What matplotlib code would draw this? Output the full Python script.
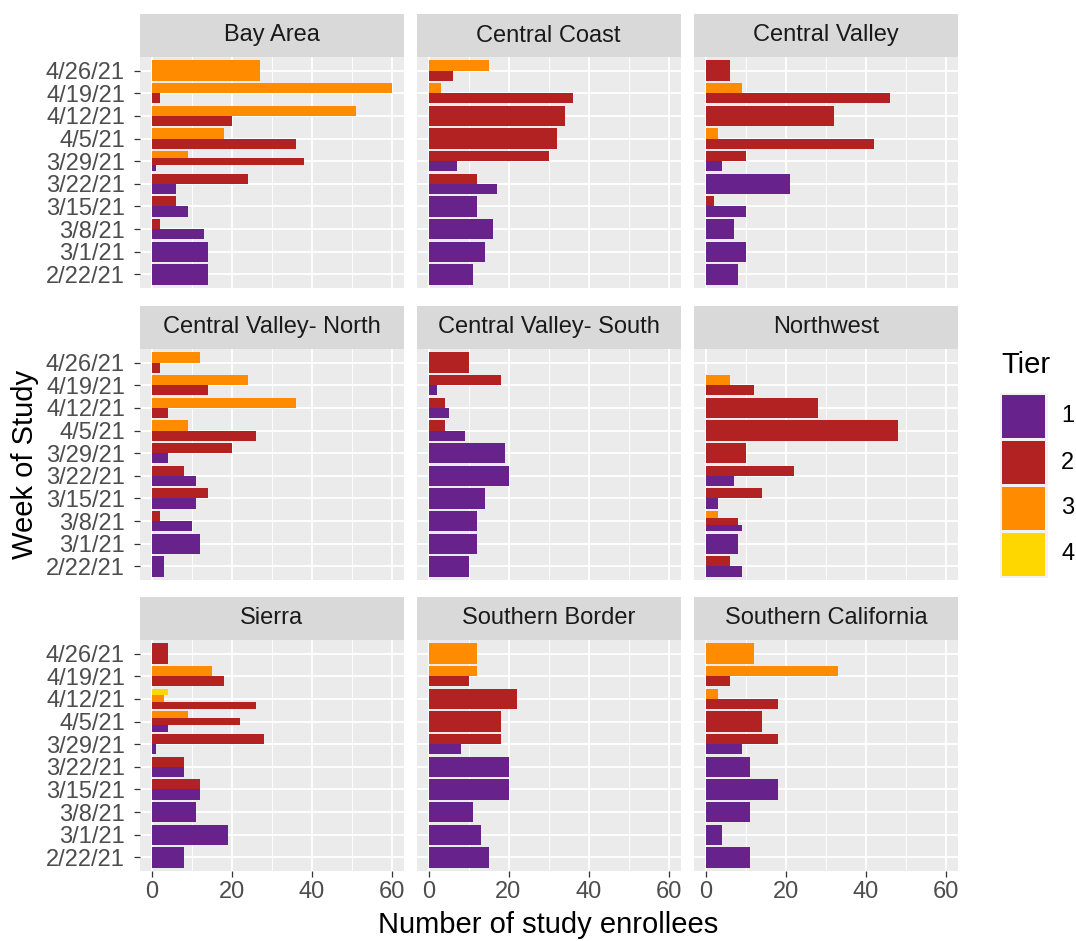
import matplotlib
matplotlib.use('Agg')
import matplotlib.pyplot as plt
from matplotlib.patches import Rectangle

plt.rcParams['font.family'] = ['Liberation Sans', 'DejaVu Sans']

# ---------------- data ----------------
weeks = ['2/22/21', '3/1/21', '3/8/21', '3/15/21', '3/22/21', '3/29/21',
         '4/5/21', '4/12/21', '4/19/21', '4/26/21']
regions = ['Bay Area', 'Central Coast', 'Central Valley',
           'Central Valley- North', 'Central Valley- South', 'Northwest',
           'Sierra', 'Southern Border', 'Southern California']
tiers = ['1', '2', '3', '4']
tier_colors = ['#68228B', '#B22222', '#FF8C00', '#FFD700']

# values per week (2/22 ... 4/26), one list per tier
bay_area_t1 = [14, 14, 13, 9, 6, 1, 0, 0, 0, 0]
bay_area_t2 = [0, 0, 2, 6, 24, 38, 36, 20, 2, 0]
bay_area_t3 = [0, 0, 0, 0, 0, 9, 18, 51, 60, 27]
bay_area_t4 = [0, 0, 0, 0, 0, 0, 0, 0, 0, 0]

central_coast_t1 = [11, 14, 16, 12, 17, 7, 0, 0, 0, 0]
central_coast_t2 = [0, 0, 0, 0, 12, 30, 32, 34, 36, 6]
central_coast_t3 = [0, 0, 0, 0, 0, 0, 0, 0, 3, 15]
central_coast_t4 = [0, 0, 0, 0, 0, 0, 0, 0, 0, 0]

central_valley_t1 = [8, 10, 7, 10, 21, 4, 0, 0, 0, 0]
central_valley_t2 = [0, 0, 0, 2, 0, 10, 42, 32, 46, 6]
central_valley_t3 = [0, 0, 0, 0, 0, 0, 3, 0, 9, 0]
central_valley_t4 = [0, 0, 0, 0, 0, 0, 0, 0, 0, 0]

cv_north_t1 = [3, 12, 10, 11, 11, 4, 0, 0, 0, 0]
cv_north_t2 = [0, 0, 2, 14, 8, 20, 26, 4, 14, 2]
cv_north_t3 = [0, 0, 0, 0, 0, 0, 9, 36, 24, 12]
cv_north_t4 = [0, 0, 0, 0, 0, 0, 0, 0, 0, 0]

cv_south_t1 = [10, 12, 12, 14, 20, 19, 9, 5, 2, 0]
cv_south_t2 = [0, 0, 0, 0, 0, 0, 4, 4, 18, 10]
cv_south_t3 = [0, 0, 0, 0, 0, 0, 0, 0, 0, 0]
cv_south_t4 = [0, 0, 0, 0, 0, 0, 0, 0, 0, 0]

northwest_t1 = [9, 8, 9, 3, 7, 0, 0, 0, 0, 0]
northwest_t2 = [6, 0, 8, 14, 22, 10, 48, 28, 12, 0]
northwest_t3 = [0, 0, 3, 0, 0, 0, 0, 0, 6, 0]
northwest_t4 = [0, 0, 0, 0, 0, 0, 0, 0, 0, 0]

sierra_t1 = [8, 19, 11, 12, 8, 1, 4, 0, 0, 0]
sierra_t2 = [0, 0, 0, 12, 8, 28, 22, 26, 18, 4]
sierra_t3 = [0, 0, 0, 0, 0, 0, 9, 3, 15, 0]
sierra_t4 = [0, 0, 0, 0, 0, 0, 0, 4, 0, 0]

southern_border_t1 = [15, 13, 11, 20, 20, 8, 0, 0, 0, 0]
southern_border_t2 = [0, 0, 0, 0, 0, 18, 18, 22, 10, 0]
southern_border_t3 = [0, 0, 0, 0, 0, 0, 0, 0, 12, 12]
southern_border_t4 = [0, 0, 0, 0, 0, 0, 0, 0, 0, 0]

socal_t1 = [11, 4, 11, 18, 11, 9, 0, 0, 0, 0]
socal_t2 = [0, 0, 0, 0, 0, 18, 14, 18, 6, 0]
socal_t3 = [0, 0, 0, 0, 0, 0, 0, 3, 33, 12]
socal_t4 = [0, 0, 0, 0, 0, 0, 0, 0, 0, 0]

region_data = {
    'Bay Area': [bay_area_t1, bay_area_t2, bay_area_t3, bay_area_t4],
    'Central Coast': [central_coast_t1, central_coast_t2, central_coast_t3, central_coast_t4],
    'Central Valley': [central_valley_t1, central_valley_t2, central_valley_t3, central_valley_t4],
    'Central Valley- North': [cv_north_t1, cv_north_t2, cv_north_t3, cv_north_t4],
    'Central Valley- South': [cv_south_t1, cv_south_t2, cv_south_t3, cv_south_t4],
    'Northwest': [northwest_t1, northwest_t2, northwest_t3, northwest_t4],
    'Sierra': [sierra_t1, sierra_t2, sierra_t3, sierra_t4],
    'Southern Border': [southern_border_t1, southern_border_t2, southern_border_t3, southern_border_t4],
    'Southern California': [socal_t1, socal_t2, socal_t3, socal_t4],
}

# ---------------- layout ----------------
W, H = 1076, 941
fig = plt.figure(figsize=(W / 100, H / 100), dpi=100)
fig.patch.set_facecolor('white')

col_left = [139.5, 416.5, 694.0]
panel_w = 264.0
row_top = [57.0, 349.0, 640.0]
panel_h = 231.0
strip_h = 43.0


def fig_rect(x, y, w, h):
    return [x / W, 1 - (y + h) / H, w / W, h / H]


tick_color = '#333333'
label_color = '#4D4D4D'

for idx, reg in enumerate(regions):
    r, c = divmod(idx, 3)
    ax = fig.add_axes(fig_rect(col_left[c], row_top[r], panel_w, panel_h))
    ax.set_facecolor('#EBEBEB')
    for s in ax.spines.values():
        s.set_visible(False)
    ax.set_xlim(-3, 63)
    ax.set_ylim(-0.6, len(weeks) - 0.4)
    ax.set_xticks([0, 20, 40, 60])
    ax.set_xticks([10, 30, 50], minor=True)
    ax.set_yticks(range(len(weeks)))
    ax.set_yticklabels(weeks)
    ax.set_xticklabels(['0', '20', '40', '60'])
    ax.grid(which='major', color='white', linewidth=1.3, zorder=0)
    ax.grid(which='minor', axis='x', color='white', linewidth=0.65, zorder=0)
    ax.set_axisbelow(True)
    ax.tick_params(which='minor', length=0)
    ax.tick_params(which='major', length=4, width=0.9, color=tick_color,
                   labelcolor=label_color, labelsize=17)
    ax.tick_params(axis='y', pad=6.5)
    ax.tick_params(axis='x', pad=3)
    if c != 0:
        ax.tick_params(axis='y', left=False, labelleft=False)
    if r != 2:
        ax.tick_params(axis='x', bottom=False, labelbottom=False)

    vals = region_data[reg]
    for i in range(len(weeks)):
        present = [t for t in range(len(tiers)) if vals[t][i] > 0]
        n = len(present)
        if n == 0:
            continue
        h = 0.9 / n
        for k, t in enumerate(present):
            yc = i - 0.45 + h * (k + 0.5)
            ax.barh(yc, vals[t][i], height=h, color=tier_colors[t],
                    linewidth=0, zorder=2)

    # strip
    sax = fig.add_axes(fig_rect(col_left[c], row_top[r] - strip_h, panel_w, strip_h))
    sax.set_facecolor('#D9D9D9')
    sax.set_xticks([])
    sax.set_yticks([])
    for s in sax.spines.values():
        s.set_visible(False)
    sax.text(0.5, 0.5, reg, ha='center', va='center', fontsize=17,
             color='#1A1A1A', transform=sax.transAxes)

# axis titles
fig.text(25 / W, 1 - 464 / H, 'Week of Study', rotation=90, ha='center',
         va='center', fontsize=21, color='black')
fig.text(548 / W, 1 - 925 / H, 'Number of study enrollees', ha='center',
         va='center', fontsize=21, color='black')

# legend
ov = fig.add_axes([0, 0, 1, 1], facecolor='none')
ov.set_xlim(0, W)
ov.set_ylim(H, 0)
ov.axis('off')
ov.text(1001, 365, 'Tier', ha='left', va='center', fontsize=21, color='black')
ov.add_patch(Rectangle((999.5, 392.5), 48, 185.5, facecolor='#F2F2F2',
                       edgecolor='none'))
key_top = 395.0
key_h = 43.0
key_gap = 3.0
for t, lab in enumerate(tiers):
    y0 = key_top + t * (key_h + key_gap)
    ov.add_patch(Rectangle((1001.5, y0), 43.5, key_h, facecolor=tier_colors[t],
                           edgecolor='none'))
    ov.text(1061, y0 + key_h / 2, lab, ha='left', va='center', fontsize=17,
            color='black')

fig.savefig('out.png', dpi=100, facecolor='white')
